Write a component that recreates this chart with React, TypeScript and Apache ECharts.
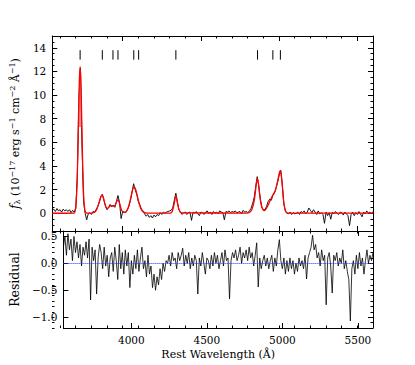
import React, { useEffect, useRef } from 'react';
import * as echarts from 'echarts';

// ---------- data ----------
const WAVE_START = 3550;
const WAVE_STEP = 10;
const X_MIN = 3550;
const X_MAX = 5600;

const flux = [
  0.25, 0.35, 0.15, 0.4, 0.2, 0.3, 0.1, 0.35, 0.2, 0.3,
  0.15, 0.3, 0.05, 0.25, 0.1, 0.4, 3.0, 9.5, 12.3, 5.8,
  1.0, 0.0, -0.55, -0.05, 0.05, -0.1, 0.15, 0.1, 0.3, 0.55,
  0.9, 1.4, 1.6, 1.1, 0.6, 0.3, 0.5, 0.75, 0.55, 0.7,
  0.5, 1.0, 1.5, 0.9, -0.45, 0.15, 0.1, 0.05, 0.3, 0.6,
  1.1, 1.8, 2.5, 2.0, 1.6, 1.0, 0.7, 0.35, 0.2, -0.05,
  -0.25, -0.1, -0.35, -0.2, -0.4, -0.15, -0.3, -0.1, -0.2, 0.05,
  -0.1, 0.1, 0.0, 0.1, 0.15, 0.2, 0.25, 0.45, 1.1, 1.7,
  0.9, 0.3, 0.1, -0.1, 0.05, 0.1, -0.1, 0.05, 0.1, -0.6,
  0.1, 0.0, 0.15, -0.05, -0.2, 0.1, 0.05, -0.1, 0.1, 0.2,
  0.0, 0.1, -0.1, 0.15, 0.0, 0.1, -0.05, 0.2, 0.1, 0.05,
  -0.55, 0.15, 0.1, 0.2, 0.05, 0.15, 0.1, 0.2, 0.05, 0.1,
  0.15, -0.05, 0.25, 0.1, 0.15, 0.05, 0.2, 0.4, 0.8, 1.3,
  2.2, 3.1, 2.3, 1.2, 0.5, 0.3, 0.3, 0.6, 1.0, 1.2,
  1.1, 1.5, 1.7, 2.1, 2.6, 3.2, 3.65, 2.4, 0.8, 0.2,
  0.0, -0.05, 0.1, -0.1, 0.05, -0.05, 0.0, 0.1, -0.1, 0.15,
  0.05, 0.2, -0.05, 0.1, 0.45, 0.25, 0.05, 0.3, 0.1, -0.1,
  0.2, -0.05, 0.05, -0.1, -0.85, 0.1, -0.2, 0.05, -0.5, 0.1,
  -0.05, 0.15, 0.0, -0.1, 0.1, 0.05, -0.15, 0.1, -0.05, -0.2,
  -1.05, -0.1, 0.1, -0.2, 0.05, -0.1, 0.15, -0.05, -0.3, 0.1,
  -0.05, 0.2, 0.0, 0.1, -0.05, 0.15,
];

const residual = [
  0.3, 0.5, 0.15, 0.55, 0.25, 0.45, 0.05, 0.5, 0.2, 0.4,
  0.1, 0.35, -0.05, 0.3, 0.15, 0.4, 0.1, 0.45, -0.68, 0.3,
  0.05, 0.25, -0.57, 0.1, 0.35, 0.2, -0.1, 0.3, -0.05, 0.15,
  -0.25, 0.1, 0.2, -0.15, 0.3, 0.05, -0.3, 0.35, -0.1, 0.2,
  -0.2, 0.25, -0.05, 0.2, -0.45, 0.05, -0.2, 0.15, -0.1, 0.25,
  -0.15, 0.1, 0.3, -0.1, 0.05, -0.25, 0.15, -0.2, -0.05, -0.45,
  -0.2, -0.5, -0.25, -0.4, -0.1, -0.3, 0.0, -0.15, 0.05, 0.0,
  0.15, -0.05, 0.2, 0.05, 0.1, -0.1, 0.2, 0.05, 0.15, 0.28,
  -0.05, 0.15, 0.0, 0.2, -0.1, 0.1, -0.05, 0.15, 0.05, -0.57,
  0.1, -0.05, 0.2, 0.0, -0.2, 0.1, 0.05, -0.1, 0.15, -0.05,
  0.2, 0.0, 0.15, -0.1, 0.05, 0.2, -0.05, 0.25, 0.05, 0.1,
  -0.66, 0.05, 0.2, 0.1, 0.25, 0.05, 0.15, 0.3, 0.0, 0.2,
  0.1, 0.25, 0.05, 0.3, 0.1, 0.2, -0.05, 0.15, 0.38, -0.44,
  0.1, -0.1, 0.05, 0.15, -0.05, 0.1, -0.1, 0.05, 0.15, -0.15,
  0.1, -0.05, 0.25, 0.44, 0.05, -0.1, 0.1, -0.2, 0.05, -0.15,
  0.1, -0.1, 0.05, -0.2, 0.0, -0.15, 0.1, -0.05, 0.05, -0.1,
  0.15, -0.29, 0.1, 0.2, 0.3, 0.52, 0.25, 0.35, 0.1, 0.2,
  -0.05, 0.25, 0.05, 0.15, -0.77, 0.1, 0.2, -0.05, -0.55, 0.15,
  0.05, 0.2, -0.05, 0.1, 0.0, 0.25, -0.1, 0.05, -0.15, -0.3,
  -1.07, -0.1, 0.05, -0.2, 0.15, -0.1, 0.2, -0.05, 0.1, -0.2,
  0.05, 0.25, 0.0, 0.15, 0.05, 0.2,
];

const modelWave = [
  3550, 3690, 3698, 3703, 3708, 3713, 3718, 3723, 3728, 3733, 3738, 3743, 3748, 3753, 3758, 3763, 3775,
  3800, 3820, 3835, 3850, 3862, 3869, 3876, 3888, 3900, 3912, 3924, 3936, 3950, 3962, 3970, 3980, 3992,
  4005, 4020, 4035, 4050, 4062, 4072, 4082, 4094, 4108, 4122, 4140, 4160,
  4305, 4318, 4330, 4340, 4350, 4360, 4375,
  4790, 4810, 4825, 4840, 4850, 4860, 4868, 4878, 4890, 4905, 4920, 4935, 4950, 4962, 4975, 4990,
  5003, 5009, 5016, 5024, 5032, 5042, 5055, 5600,
];
const modelFlux = [
  0.0, 0.02, 0.3, 0.94, 2.4, 4.9, 8.2, 11.2, 12.4, 11.2, 8.2, 4.9, 2.4, 0.94, 0.3, 0.08, 0.02,
  0.02, 0.08, 0.35, 0.95, 1.45, 1.55, 1.35, 0.75, 0.4, 0.5, 0.65, 0.6, 0.65, 1.0, 1.15, 0.85, 0.3,
  0.08, 0.12, 0.45, 1.2, 1.9, 2.25, 2.05, 1.45, 0.7, 0.25, 0.06, 0.02,
  0.02, 0.2, 0.85, 1.5, 0.9, 0.3, 0.04,
  0.02, 0.06, 0.3, 1.0, 2.0, 2.95, 2.5, 1.3, 0.5, 0.22, 0.45, 0.85, 1.3, 1.6, 1.9, 2.7,
  3.5, 3.6, 3.0, 1.8, 0.7, 0.15, 0.02, 0.02,
];

// shaded model band around the [O II] peak
const bandWave = [3716.7, 3720, 3724, 3728, 3732, 3736, 3739.3];
const bandFlux = [7.3, 9.5, 11.6, 12.4, 11.6, 9.5, 7.3];

// emission-line marks
const lineMarks = [3728, 3870, 3938, 3970, 4071, 4102, 4340, 4862, 4960, 5008];
const MARK_LO = 13.0;
const MARK_HI = 13.8;

// ticks
const xMajor = [4000, 4500, 5000, 5500];
const fluxMajor = [0, 2, 4, 6, 8, 10, 12, 14];
const residMajor = [-1.0, -0.5, 0.0, 0.5];
const FLUX_MIN = -1.5, FLUX_MAX = 15;
const RES_MIN = -1.2, RES_MAX = 0.6;

// ---------- helpers ----------
const FONT = '"DejaVu Serif", serif';
const steps = (a: number, b: number, s: number) => {
  const out: number[] = [];
  const n = Math.round((b - a) / s);
  for (let i = 0; i <= n; i++) out.push(+(a + i * s).toFixed(4));
  return out;
};
const xMinor = steps(3600, 5600, 100);
const fluxMinor = steps(-1.5, 15, 0.5);
const residMinor = steps(-1.2, 0.6, 0.1);

const minusFmt = (v: number) => (v < 0 ? '\u2212' : '') + Math.abs(v).toFixed(1);

function App() {
  const ref = useRef<HTMLDivElement>(null);
  useEffect(() => {
    if (!ref.current) return;
    const chart = echarts.init(ref.current, null, { renderer: 'svg' });

    const wave = flux.map((_, i) => WAVE_START + WAVE_STEP * i);
    const rects = [
      { left: 52, top: 36, width: 321, height: 195 },
      { left: 52, top: 231, width: 321, height: 97 },
    ];
    const grids = [rects[0], rects[1], rects[0], rects[1]];

    const tickLine = { color: '#000', width: 1 };
    const labelStyle = { color: '#000', fontFamily: FONT, fontSize: 10.5 };
    const titleStyle = { color: '#000', fontFamily: FONT, fontSize: 11 };

    const mkX = (gi: number, position: string, ticks: number[], len: number, showLine: boolean, labels: boolean, extra: any = {}) => ({
      type: 'value', gridIndex: gi, position, min: X_MIN, max: X_MAX,
      axisLine: { show: showLine, onZero: false, lineStyle: { color: '#000', width: 1 } },
      axisTick: { show: true, inside: true, length: len, customValues: ticks, lineStyle: tickLine },
      axisLabel: labels
        ? { show: true, customValues: ticks, margin: 6, ...labelStyle, formatter: (v: number) => String(v) }
        : { show: false },
      splitLine: { show: false },
      ...extra,
    });
    const mkY = (gi: number, position: string, min: number, max: number, ticks: number[], len: number, showLine: boolean, labels: any, extra: any = {}) => ({
      type: 'value', gridIndex: gi, position, min, max,
      axisLine: { show: showLine, onZero: false, lineStyle: { color: '#000', width: 1 } },
      axisTick: { show: true, inside: true, length: len, customValues: ticks, lineStyle: tickLine },
      axisLabel: labels
        ? { show: true, customValues: ticks, margin: 6, ...labelStyle, formatter: labels }
        : { show: false },
      splitLine: { show: false },
      ...extra,
    });

    const MAJ = 5, MIN = 2.5;

    const xAxis = [
      mkX(0, 'bottom', xMajor, MAJ, true, false),
      mkX(0, 'top', xMajor, MAJ, true, false),
      mkX(1, 'bottom', xMajor, MAJ, true, true, {
        name: 'Rest Wavelength (\u00c5)', nameLocation: 'middle', nameGap: 21,
        nameTextStyle: { ...titleStyle },
      }),
      mkX(1, 'top', xMajor, MAJ, true, false),
      mkX(2, 'bottom', xMinor, MIN, false, false),
      mkX(2, 'top', xMinor, MIN, false, false),
      mkX(3, 'bottom', xMinor, MIN, false, false),
      mkX(3, 'top', xMinor, MIN, false, false),
    ];

    const yTitle = '{it|f}{sub|\u03bb}{n| (10}{sup|\u221217}{n| erg s}{sup|\u22121}{n| cm}{sup|\u22122}{n| \u00c5}{sup|\u22121}{n|)}';
    const yAxis = [
      mkY(0, 'left', FLUX_MIN, FLUX_MAX, fluxMajor, MAJ, true, (v: number) => String(v), {
        name: yTitle, nameLocation: 'middle', nameGap: 24, nameRotate: 90,
        nameTextStyle: {
          ...titleStyle,
          rich: {
            n: { fontFamily: FONT, fontSize: 11, color: '#000', lineHeight: 14, verticalAlign: 'middle' },
            it: { fontFamily: FONT, fontSize: 12, fontStyle: 'italic', color: '#000', lineHeight: 14, verticalAlign: 'middle' },
            sup: { fontFamily: FONT, fontSize: 8, color: '#000', lineHeight: 8, padding: [0, 0, 6, 0], verticalAlign: 'middle' },
            sub: { fontFamily: FONT, fontSize: 8, color: '#000', lineHeight: 8, padding: [5, 0, 0, 0], verticalAlign: 'middle' },
          },
        },
      }),
      mkY(0, 'right', FLUX_MIN, FLUX_MAX, fluxMajor, MAJ, true, null),
      mkY(1, 'left', RES_MIN, RES_MAX, residMajor, MAJ, true, minusFmt, {
        name: 'Residual', nameLocation: 'middle', nameGap: 38, nameRotate: 90,
        nameTextStyle: { ...titleStyle, fontSize: 12.5 },
      }),
      mkY(1, 'right', RES_MIN, RES_MAX, residMajor, MAJ, true, null),
      mkY(2, 'left', FLUX_MIN, FLUX_MAX, fluxMinor, MIN, false, null),
      mkY(2, 'right', FLUX_MIN, FLUX_MAX, fluxMinor, MIN, false, null),
      mkY(3, 'left', RES_MIN, RES_MAX, residMinor, MIN, false, null),
      mkY(3, 'right', RES_MIN, RES_MAX, residMinor, MIN, false, null),
    ];

    chart.setOption({
      animation: false,
      grid: grids,
      xAxis,
      yAxis,
      series: [
        {
          type: 'line', xAxisIndex: 0, yAxisIndex: 0, z: 2,
          data: wave.map((w, i) => [w, flux[i]]),
          symbol: 'none', lineStyle: { color: '#000', width: 0.9 }, clip: true,
        },
        {
          type: 'custom', xAxisIndex: 0, yAxisIndex: 0, z: 3,
          data: [[bandWave[3], bandFlux[3]]],
          renderItem: (_p: any, api: any) => ({
            type: 'polygon',
            shape: { points: bandWave.map((w, i) => api.coord([w, bandFlux[i]])) },
            style: { fill: 'rgba(238,120,120,0.8)', stroke: 'none' },
          }),
        },
        {
          type: 'line', xAxisIndex: 0, yAxisIndex: 0, z: 4,
          data: modelWave.map((w, i) => [w, modelFlux[i]]),
          symbol: 'none', smooth: 0.3, lineStyle: { color: '#ff0000', width: 1.3 }, clip: true,
        },
        {
          type: 'custom', xAxisIndex: 0, yAxisIndex: 0, z: 5,
          data: lineMarks.map((w) => [w, MARK_LO, MARK_HI]),
          encode: { x: 0, y: [1, 2] },
          renderItem: (_p: any, api: any) => {
            const p1 = api.coord([api.value(0), api.value(1)]);
            const p2 = api.coord([api.value(0), api.value(2)]);
            return {
              type: 'line',
              shape: { x1: p1[0], y1: p1[1], x2: p2[0], y2: p2[1] },
              style: { stroke: '#000', lineWidth: 1 },
            };
          },
        },
        {
          type: 'line', xAxisIndex: 2, yAxisIndex: 2, z: 2,
          data: wave.map((w, i) => [w, residual[i]]),
          symbol: 'none', lineStyle: { color: '#000', width: 0.8 }, clip: true,
          markLine: {
            silent: true, symbol: ['none', 'none'], label: { show: false },
            lineStyle: { color: '#2233ff', type: 'dotted', width: 1 },
            data: [{ yAxis: 0 }],
          },
        },
      ],
    });
    return () => chart.dispose();
  }, []);
  return <div ref={ref} style={{ position: 'fixed', left: 0, top: 0, width: 415, height: 365, background: '#fff' }} />;
}

export default App;
